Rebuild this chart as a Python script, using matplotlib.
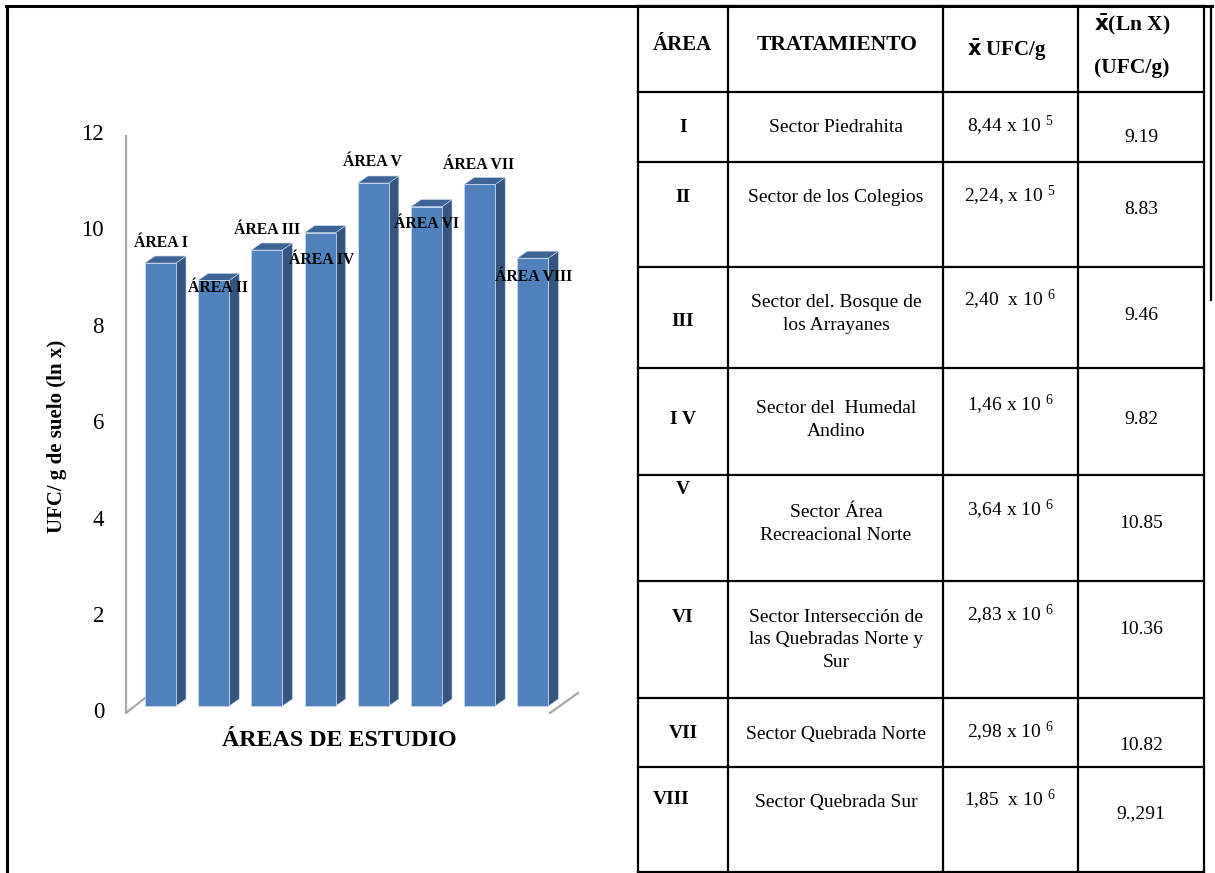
import matplotlib
matplotlib.use("Agg")
import matplotlib.pyplot as plt
from matplotlib.patches import Polygon
from matplotlib.lines import Line2D

plt.rcParams['font.family'] = ['Liberation Serif', 'DejaVu Serif']
plt.rcParams['mathtext.fontset'] = 'custom'
plt.rcParams['mathtext.rm'] = 'Liberation Serif'
plt.rcParams['mathtext.it'] = 'Liberation Serif:italic'
plt.rcParams['mathtext.bf'] = 'DejaVu Sans:bold'

# ---------------- data ----------------
bar_labels = ["ÁREA I", "ÁREA II", "ÁREA III", "ÁREA IV",
              "ÁREA V", "ÁREA VI", "ÁREA VII", "ÁREA VIII"]
ln_values = [9.19, 8.83, 9.46, 9.82, 10.85, 10.36, 10.82, 9.291]
y_ticks = [0, 2, 4, 6, 8, 10, 12]
y_title = "UFC/ g de suelo (ln x)"
x_title = "ÁREAS DE ESTUDIO"

headers = ["ÁREA", "TRATAMIENTO", r"$\mathbf{\bar{x}}$ UFC/g", r"$\mathbf{\bar{x}}$(Ln X)", "(UFC/g)"]
areas = ["I", "II", "III", "I V", "V", "VI", "VII", "VIII"]
tratamientos = ["Sector Piedrahita",
                "Sector de los Colegios",
                "Sector del. Bosque de\nlos Arrayanes",
                "Sector del  Humedal\nAndino",
                "Sector Área\nRecreacional Norte",
                "Sector Intersección de\nlas Quebradas Norte y\nSur",
                "Sector Quebrada Norte",
                "Sector Quebrada Sur"]
ufc_text = [r"8,44 x 10 $^{\mathrm{5}}$", r"2,24, x 10 $^{\mathrm{5}}$", r"2,40  x 10 $^{\mathrm{6}}$",
            r"1,46 x 10 $^{\mathrm{6}}$", r"3,64 x 10 $^{\mathrm{6}}$", r"2,83 x 10 $^{\mathrm{6}}$",
            r"2,98 x 10 $^{\mathrm{6}}$", r"1,85  x 10 $^{\mathrm{6}}$"]
ln_text = ["9.19", "8.83", "9.46", "9.82", "10.85", "10.36", "10.82", "9.,291"]

# ---------------- layout (pixels) ----------------
W, H = 1215, 873
fig = plt.figure(figsize=(W / 100, H / 100), dpi=100)

L, R, T, B = 100, 600, 100, 760
X0, SX = 160.5, 53.2    # first bar centre (px), px per category
Y0, SY = 706.0, 48.2    # value 0 (px), px per unit

ax = fig.add_axes([L / W, (H - B) / H, (R - L) / W, (B - T) / H])
ax.set_xlim((L - X0) / SX, (R - X0) / SX)
ax.set_ylim((Y0 - B) / SY, (Y0 - T) / SY)
ax.axis('off')

bw = 31 / SX
DX = 10 / SX
DY = 7 / SY
front_col, side_col, top_col, edge_col = '#4F81BD', '#34557F', '#3C6494', '#C6D6EA'

xs = list(range(len(ln_values)))
ax.bar(xs, ln_values, width=bw, color=front_col, edgecolor=edge_col, linewidth=0.6, zorder=3)
for x, v in zip(xs, ln_values):
    l, r = x - bw / 2, x + bw / 2
    ax.add_patch(Polygon([(r, 0), (r + DX, DY), (r + DX, v + DY), (r, v)], closed=True,
                         fc=side_col, ec=edge_col, lw=0.4, zorder=2))
    ax.add_patch(Polygon([(l, v), (l + DX, v + DY), (r + DX, v + DY), (r, v)], closed=True,
                         fc=top_col, ec=edge_col, lw=0.4, zorder=2))

# axis decoration (3-D wall edges)
axx = (126 - X0) / SX
gray = '#A6A6A6'
ax.plot([axx, axx], [-DY, max(y_ticks) - DY], color=gray, lw=1.6, solid_capstyle='butt', zorder=1)
ax.plot([axx, (145 - X0) / SX], [-DY, (Y0 - 698) / SY], color=gray, lw=1.6, zorder=1)
ax.plot([(550 - X0) / SX, (578 - X0) / SX], [-DY, (Y0 - 693) / SY], color=gray, lw=1.6, zorder=1)

tick_x = (104 - X0) / SX
for t in y_ticks:
    ax.text(tick_x, t - DY, str(t), ha='right', va='center', fontsize=16.5, clip_on=False)

label_dx = [0, 4, 0, 2, -1, 0, -1, 1]
label_dy = [20, -8, 20, -27, 21, -17, 19.5, -19]
for x, v, s, ddx, ddy in zip(xs, ln_values, bar_labels, label_dx, label_dy):
    ax.annotate(s, (x, v), xytext=(ddx, ddy), textcoords='offset pixels',
                ha='center', va='center', fontsize=11.3, fontweight='bold', zorder=6,
                annotation_clip=False)

# overlay axes in pixel coordinates for frame + table
lay = fig.add_axes([0, 0, 1, 1], zorder=5)
lay.set_xlim(0, W)
lay.set_ylim(H, 0)
lay.axis('off')
lay.patch.set_alpha(0)

lay.text(57, 436, y_title, rotation=90, ha='center', va='center', fontsize=15, fontweight='bold')
lay.text(339, 741, x_title, ha='center', va='center', fontsize=17.3, fontweight='bold')

# outer frame
lay.add_line(Line2D([6, 1212], [6, 6], color='black', lw=2.2))
lay.add_line(Line2D([7, 7], [6, 873], color='black', lw=2.2))
lay.add_line(Line2D([1211, 1211], [6, 300], color='black', lw=1.6))

# table grid
col_x = [638, 728, 943, 1078, 1204]
row_y = [6, 92, 162, 267, 368, 475, 581, 698, 767, 872]
for cx in col_x:
    lay.add_line(Line2D([cx, cx], [row_y[0], row_y[-1]], color='black', lw=1.6))
for ry in row_y:
    lay.add_line(Line2D([col_x[0], col_x[-1]], [ry, ry], color='black', lw=1.6))

# header
lay.text(682, 45, headers[0], ha='center', va='center', fontsize=15, fontweight='bold')
lay.text(837, 45, headers[1], ha='center', va='center', fontsize=15.5, fontweight='bold')
lay.text(1007, 50, headers[2], ha='center', va='center', fontsize=15, fontweight='bold')
lay.text(1132, 25, headers[3], ha='center', va='center', fontsize=15.5, fontweight='bold')
lay.text(1132, 68, headers[4], ha='center', va='center', fontsize=15.5, fontweight='bold')

area_x = [683, 683, 683, 683, 683, 683, 683, 671]
area_y = [128, 198, 322, 420, 490, 618, 734, 800]
treat_y = [128, 198, 314, 420, 524, 640, 734, 803]
ufc_y = [126, 196, 300, 405, 510, 615, 732, 800]
ln_y = [138, 209, 315, 420, 523, 629, 745, 814]

for i in range(len(areas)):
    lay.text(area_x[i], area_y[i], areas[i], ha='center', va='center', fontsize=14, fontweight='bold')
    lay.text(836, treat_y[i], tratamientos[i], ha='center', va='center', fontsize=14,
             linespacing=1.42, multialignment='center')
    lay.text(1010, ufc_y[i], ufc_text[i], ha='center', va='center', fontsize=14)
    lay.text(1141, ln_y[i], ln_text[i], ha='center', va='center', fontsize=14)

fig.savefig("out.png", dpi=100)
